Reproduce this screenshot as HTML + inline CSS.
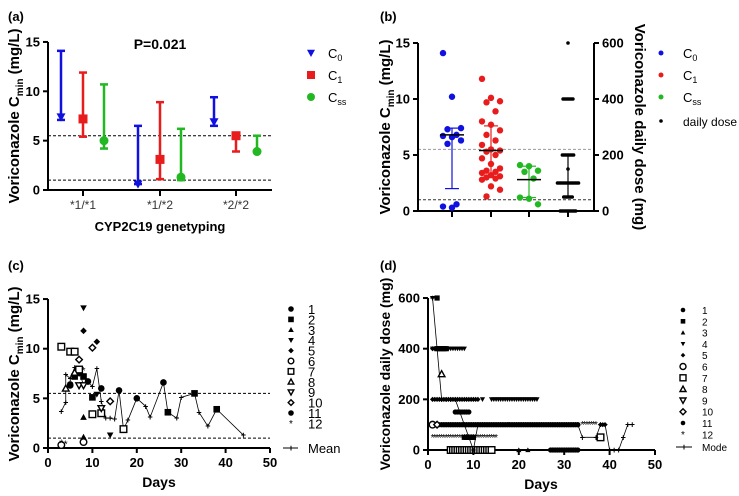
<!DOCTYPE html>
<html><head><meta charset="utf-8"><style>
html,body{margin:0;padding:0;background:#fff}
svg{display:block;font-family:"Liberation Sans",Arial,sans-serif}
</style></head><body>
<svg id="s" width="739" height="496" viewBox="0 0 739 496" xmlns="http://www.w3.org/2000/svg"></svg>
<script>
// ---------- data ----------
const aCategories=["*1/*1","*1/*2","*2/*2"];
const aMedC0=[7.4,0.6,6.9], aLoC0=[7.1,0.6,6.5], aHiC0=[14.1,6.5,9.4];
const aMedC1=[7.2,3.1,5.5], aLoC1=[5.4,1.1,3.9], aHiC1=[11.9,8.9,5.6];
const aMedCss=[5.0,1.3,3.9], aLoCss=[4.2,1.0,3.8], aHiCss=[10.7,6.2,5.5];
const yTicksConc=[0,5,10,15];
const refLines=[5.5,1];
const bC0=[14.1,10.2,7.4,7.3,6.8,6.7,6.6,6.3,6.0,0.6,0.4,0.3];
const bC1=[11.8,10.1,9.8,9.7,8.9,8.0,7.7,7.2,6.8,6.3,5.9,5.5,5.4,5.3,5.0,4.7,4.2,3.8,3.6,3.5,3.4,3.2,3.1,3.0,2.9,2.8,2.2,1.9,1.3];
const bCss=[4.1,4.0,3.6,3.5,2.9,1.2,1.1,0.6];
const bStats=[[6.8,2.0,7.4],[5.4,3.1,7.6],[2.8,1.2,4.0]];
const bDoseVals=[600,400,200,150,100,50,0];
const bDoseCounts=[1,8,9,1,16,7,12];
const bDoseStat=[100,50,200];
const dTicks=[0,200,400,600];
const cMeanDays=[3,4,4,5,6,7,8,9,10,11,12,13,14,15,16,17,18,20,22,23,26,27,29,30,33,34,36,38,44];
const cMeanVals=[3.7,4.6,7.4,7.0,8.1,7.8,6.3,6.6,6.2,8.0,4.7,3.0,3.0,2.9,5.8,1.9,2.8,5.0,4.2,3.1,6.6,3.6,3.0,5.1,5.5,3.6,2.2,3.9,1.3];
const cPatient=[1,1,1,1,2,2,2,3,3,3,4,4,4,5,5,5,6,6,7,7,7,7,7,7,7,8,8,9,9,9,10,10,10,11,11,12,12,12,2,2,2,1];
const cDays=[5,9,12,16,6,8,10,4,8,8,8,14,11,8,11,7,3,8,3,5,6,7,10,12,17,4,6,7,8,12,7,10,14,5,20,3,4,8,27,33,38,26];
const cVals=[6.3,6.7,6.0,5.8,7.2,7.2,5.1,6.0,3.1,1.1,14.1,1.3,5.4,11.8,10.7,7.5,0.3,0.6,10.2,9.7,9.7,7.9,3.4,3.5,1.9,6.0,7.6,6.3,6.3,4.0,8.9,10.1,4.7,6.4,5.0,0.5,0.4,7.8,3.6,5.5,3.9,6.6];
const dModeDays=[1,2,3,4,5,6,7,8,9,10,11,12,20,33,34,37,38,39,40,41,42,43,44,45];
const dModeVals=[600,400,200,200,200,200,150,100,50,0,100,100,100,100,50,50,100,100,0,0,0,50,100,100];
// runs: patient, dose, fromDay, toDay
const dRunP=[4,2,4,5,2,8,5,4,11,4,11,6,10,1,12,5,12,2,7,7,3,3,1];
const dRunDose=[600,600,400,400,400,300,200,200,150,200,100,100,100,100,100,100,50,50,50,0,0,0,0];
const dRunFrom=[1,2,1,1,2,3,1,12,6,14,1,1,2,3,34,38,1,8,38,5,20,22,27];
const dRunTo=[1,2,8,3,4,3,11,12,9,24,33,1,2,33,37,39,15,10,38,14,20,22,33];

const S=document.getElementById('s');const NS='http://www.w3.org/2000/svg';
function el(t,a,p){const e=document.createElementNS(NS,t);for(const k in a)e.setAttribute(k,a[k]);(p||S).appendChild(e);return e;}
function txt(x,y,s,a,p){const e=el('text',Object.assign({x:x,y:y,'font-size':13,'font-weight':'bold','text-anchor':'middle',fill:'#000'},a||{}),p);e.textContent=s;return e;}
function marker(g,shape,x,y,r,col){col=col||'#000';let e;
 const open=shape.indexOf('o')===0, sh=open?shape.slice(1):shape;
 const st=open?{fill:'#fff',stroke:col,'stroke-width':1.4}:{fill:col};
 if(sh==='c')e=el('circle',Object.assign({cx:x,cy:y,r:r},st),g);
 else if(sh==='s')e=el('rect',Object.assign({x:x-r,y:y-r,width:2*r,height:2*r},st),g);
 else if(sh==='u')e=el('polygon',Object.assign({points:`${x},${y-r} ${x-r},${y+r*.8} ${x+r},${y+r*.8}`},st),g);
 else if(sh==='d')e=el('polygon',Object.assign({points:`${x},${y+r} ${x-r},${y-r*.8} ${x+r},${y-r*.8}`},st),g);
 else if(sh==='m')e=el('polygon',Object.assign({points:`${x},${y-r} ${x+r},${y} ${x},${y+r} ${x-r},${y}`},st),g);
 else if(sh==='x')e=txt(x,y+3.5,'*',{'font-size':10,'font-weight':'normal'},g);
 return e;}
function yaxis(g,x,y0,y1,ticks,sc,left){el('line',{x1:x,y1:y0+1,x2:x,y2:y1,stroke:'#000','stroke-width':2},g);
 ticks.forEach(t=>{const y=sc(t);el('line',{x1:x,x2:left?x-5:x+5,y1:y,y2:y,stroke:'#000','stroke-width':2},g);
 txt(left?x-8:x+8,y+4.5,String(t),{'text-anchor':left?'end':'start'},g);});}
function dashed(g,x0,x1,y,c){el('line',{x1:x0,x2:x1,y1:y,y2:y,stroke:c||'#000','stroke-width':1,'stroke-dasharray':'3,2'},g);}

// ---------- panel a ----------
(function(){const g=el('g',{});
 const y=v=>190-v*9.87;const X0=48,X1=272;const cx=[83,160,236];
 txt(8,21,'(a)',{'text-anchor':'start'},g);
 refLines.forEach(v=>dashed(g,X0,X1,y(v)));
 yaxis(g,X0,190,42,yTicksConc,y,true);
 el('line',{x1:X0-1,x2:X1,y1:190,y2:190,stroke:'#000','stroke-width':2},g);
 aCategories.forEach((c,i)=>{el('line',{x1:cx[i],x2:cx[i],y1:190,y2:196,stroke:'#000','stroke-width':2},g);
  txt(cx[i],209,c,{'font-weight':'normal','font-size':12,fill:'#333'},g);});
 const ser=[[aMedC0,aLoC0,aHiC0,'#1010e0','d',-22],[aMedC1,aLoC1,aHiC1,'#e81c1c','s',0],[aMedCss,aLoCss,aHiCss,'#22b822','c',21]];
 ser.forEach(s=>{s[0].forEach((m,i)=>{const x=cx[i]+s[5];
  el('line',{x1:x,x2:x,y1:y(s[1][i]),y2:y(s[2][i]),stroke:s[3],'stroke-width':2.5},g);
  [s[1][i],s[2][i]].forEach(v=>el('line',{x1:x-4,x2:x+4,y1:y(v),y2:y(v),stroke:s[3],'stroke-width':2.5},g));
  const mk=marker(g,s[4],x,y(m),4.5,s[3]);});});
 txt(160,49,'P=0.021',{'font-size':14},g);
 const t=txt(0,0,'',{'font-size':15,transform:'translate(19,116) rotate(-90)'},g);
 t.innerHTML='Voriconazole C<tspan font-size="10" dy="4">min</tspan><tspan dy="-4"> (mg/L)</tspan>';
 txt(160,231,'CYP2C19 genetyping',{'font-size':13},g);
 [['#1010e0','d','0'],['#e81c1c','s','1'],['#22b822','c','ss']].forEach((l,i)=>{const yy=53+i*22;
  marker(g,l[1],311,yy,4,l[0]);const tt=txt(328,yy+5,'',{'text-anchor':'start','font-weight':'normal','font-size':13},g);
  tt.innerHTML='C<tspan font-size="9" dy="3">'+l[2]+'</tspan>';});
})();

// ---------- panel b ----------
(function(){const g=el('g',{});
 const y=v=>211-v*11.2, yd=v=>211-v*0.28;const XL=418,XR=594;const cx=[452,491,529,568];
 txt(380,21,'(b)',{'text-anchor':'start'},g);
 dashed(g,XL,XR,y(5.5),'#999');dashed(g,XL,XR,y(1),'#333');
 yaxis(g,XL,211,43,yTicksConc,y,true);yaxis(g,XR,211,43,dTicks,yd,false);
 el('line',{x1:XL-1,x2:XR+1,y1:211,y2:211,stroke:'#000','stroke-width':2},g);
 cx.forEach(x=>el('line',{x1:x,x2:x,y1:211,y2:217,stroke:'#000','stroke-width':2},g));
 const cols=['#1010e0','#e81c1c','#22b822'];
 [bC0,bC1,bCss].forEach((arr,k)=>{const st=bStats[k],x=cx[k];
  el('line',{x1:x,x2:x,y1:y(st[1]),y2:y(st[2]),stroke:cols[k],'stroke-width':1.2},g);
  [st[1],st[2]].forEach(v=>el('line',{x1:x-7,x2:x+7,y1:y(v),y2:y(v),stroke:cols[k],'stroke-width':1.2},g));
  arr.forEach((v,i)=>{const off=((i*7)%5-2)*4.5;const c=el('circle',{cx:x+off,cy:y(v),r:3.2,fill:cols[k]},g);
   });
  el('line',{x1:x-12,x2:x+12,y1:y(st[0]),y2:y(st[0]),stroke:'#000','stroke-width':1.5},g);});
 const x=cx[3];
 el('line',{x1:x,x2:x,y1:yd(bDoseStat[1]),y2:yd(bDoseStat[2]),stroke:'#000','stroke-width':1.2},g);
 [bDoseStat[1],bDoseStat[2]].forEach(v=>el('line',{x1:x-6,x2:x+6,y1:yd(v),y2:yd(v),stroke:'#000','stroke-width':1.2},g));
 bDoseVals.forEach((v,i)=>{const n=bDoseCounts[i];for(let j=0;j<n;j++){const c=el('circle',{cx:x+(j-(n-1)/2)*1.4,cy:yd(v),r:1.8,fill:'#000'},g);
  }});
 el('line',{x1:x-12,x2:x+12,y1:yd(bDoseStat[0]),y2:yd(bDoseStat[0]),stroke:'#000','stroke-width':1.5},g);
 const t=txt(0,0,'',{'font-size':15,transform:'translate(390,127) rotate(-90)'},g);
 t.innerHTML='Voriconazole C<tspan font-size="10" dy="4">min</tspan><tspan dy="-4"> (mg/L)</tspan>';
 txt(0,0,'Voriconazole daily dose (mg)',{'font-size':15,transform:'translate(635,127) rotate(90)'},g);
 [['#1010e0','0'],['#e81c1c','1'],['#22b822','ss']].forEach((l,i)=>{const yy=53+i*22;
  el('circle',{cx:661,cy:yy,r:2.5,fill:l[0]},g);const tt=txt(683,yy+5,'',{'text-anchor':'start','font-weight':'normal','font-size':13},g);
  tt.innerHTML='C<tspan font-size="9" dy="3">'+l[1]+'</tspan>';});
 el('circle',{cx:661,cy:121,r:1.8,fill:'#000'},g);txt(683,126,'daily dose',{'text-anchor':'start','font-weight':'normal','font-size':12},g);
})();

const shapes=['c','c','s','u','d','m','oc','os','ou','od','om','c','x'];
// ---------- panel c ----------
(function(){const g=el('g',{});
 const y=v=>448-v*9.93, x=d=>48+d*4.44;
 txt(8,270,'(c)',{'text-anchor':'start'},g);
 refLines.forEach(v=>dashed(g,48,270,y(v)));
 yaxis(g,48,448,299,yTicksConc,y,true);
 el('line',{x1:47,x2:270,y1:448,y2:448,stroke:'#000','stroke-width':2},g);
 [0,10,20,30,40,50].forEach(d=>{el('line',{x1:x(d),x2:x(d),y1:448,y2:453,stroke:'#000','stroke-width':2},g);txt(x(d),467,String(d),{},g);});
 txt(159,487,'Days',{'font-size':14},g);
 const t=txt(0,0,'',{'font-size':15,transform:'translate(19,374) rotate(-90)'},g);
 t.innerHTML='Voriconazole C<tspan font-size="10" dy="4">min</tspan><tspan dy="-4"> (mg/L)</tspan>';
 el('polyline',{points:cMeanDays.map((d,i)=>x(d)+','+y(cMeanVals[i])).join(' '),fill:'none',stroke:'#000','stroke-width':0.8},g);
 cMeanDays.forEach((d,i)=>{const m=txt(x(d),y(cMeanVals[i])+3,'+',{'font-size':9},g);});
 cDays.forEach((d,i)=>{const m=marker(g,shapes[cPatient[i]],x(d),y(cVals[i]),3.3);});
 for(let p=1;p<=12;p++){const yy=309+(p-1)*10.4;marker(g,shapes[p],291,yy,2.8);txt(308,yy+5,String(p),{'text-anchor':'start','font-weight':'normal','font-size':13},g);}
 el('line',{x1:283,x2:298,y1:448,y2:448,stroke:'#000'},g);txt(291,451,'+',{'font-size':9},g);
 txt(308,453,'Mean',{'text-anchor':'start','font-weight':'normal','font-size':13},g);
})();

// ---------- panel d ----------
(function(){const g=el('g',{});
 const y=v=>450-v*0.2533, x=d=>428+d*4.54;
 txt(380,270,'(d)',{'text-anchor':'start'},g);
 yaxis(g,428,450,298,dTicks,y,true);
 el('line',{x1:427,x2:655,y1:450,y2:450,stroke:'#000','stroke-width':2},g);
 [0,10,20,30,40,50].forEach(d=>{el('line',{x1:x(d),x2:x(d),y1:450,y2:455,stroke:'#000','stroke-width':2},g);txt(x(d),469,String(d),{},g);});
 txt(541,489,'Days',{'font-size':14},g);
 txt(0,0,'Voriconazole daily dose (mg)',{'font-size':14,transform:'translate(390,374) rotate(-90)'},g);
 el('polyline',{points:dModeDays.map((d,i)=>x(d)+','+y(dModeVals[i])).join(' '),fill:'none',stroke:'#000','stroke-width':0.8},g);
 dRunP.forEach((p,i)=>{for(let d=dRunFrom[i];d<=dRunTo[i];d+=0.5){const m=marker(g,shapes[p],x(d),y(dRunDose[i]),p>=6&&p<=10?3.3:2.6);
  }});
 dModeDays.forEach((d,i)=>txt(x(d),y(dModeVals[i])+3,'+',{'font-size':9},g));
 for(let p=1;p<=12;p++){const yy=310+(p-1)*11.3;marker(g,shapes[p],683,yy,p>=6&&p<=10?3:2.3);txt(702,yy+4,String(p),{'text-anchor':'start','font-weight':'normal','font-size':10},g);}
 el('line',{x1:676,x2:692,y1:447,y2:447,stroke:'#000'},g);txt(684,450,'+',{'font-size':9},g);
 txt(702,451,'Mode',{'text-anchor':'start','font-weight':'normal','font-size':10},g);
})();
</script>
</body></html>
